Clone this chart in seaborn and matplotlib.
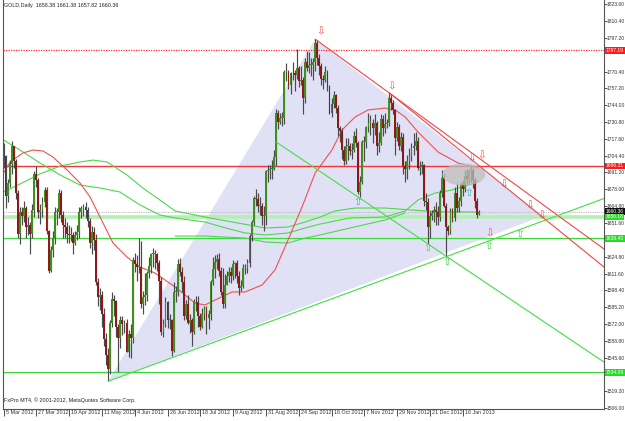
import numpy as np
import pandas as pd
import matplotlib
matplotlib.use("Agg")
import matplotlib.pyplot as plt
import seaborn as sns
from matplotlib.patches import Polygon, Ellipse
from matplotlib.transforms import blended_transform_factory, ScaledTranslation

# ---------------- data (GOLD daily, 5 Mar 2012 .. 28 Jan 2013) ----------------
opens = [
    1710,1704,1673,1683,1698,1712,1700,1675,1643,1660,1657,1663,1648,1650,1643,1662,1690,1685,1660,1662,
    1668,1677,1645,1614,1630,1640,1660,1660,1675,1658,1650,1648,1643,1642,1642,1636,1642,1644,1660,1663,
    1664,1662,1653,1636,1644,1638,1605,1593,1595,1580,1560,1548,1537,1573,1592,1590,1570,1561,1575,1572,1573,1550,1564,1561,
    1622,1619,1617,1617,1588,1593,1595,1612,1618,1627,1627,1627,1620,1606,1566,1572,1589,1575,1575,1551,
    1597,1597,1619,1613,1605,1578,1588,1573,1575,1566,1589,1589,1578,1570,1580,1584,1577,1580,1605,1615,1621,1623,
    1614,1597,1588,1603,1610,1613,1610,1619,1620,1610,1600,1602,1616,1616,1620,1641,1652,1671,1670,1665,1665,1657,1657,
    1692,1693,1694,1694,1703,1738,1731,1734,1734,1770,1770,1760,1769,1769,1768,1773,1763,1764,1750,1778,
    1773,1776,1776,1778,1793,1781,1775,1765,1764,1770,1758,1738,1745,1752,1742,1726,1724,1709,1700,1712,1712,1708,1709,
    1720,1714,1676,1684,1715,1715,1727,1730,1730,1726,1730,1712,1714,1733,1726,1729,1730,1750,1746,1740,1718,1727,
    1712,1719,1696,1694,1700,1704,1710,1712,1716,1695,1696,1697,1669,1668,1648,1657,1659,1662,1660,1656,
    1675,1687,1665,1648,1645,1661,1655,1675,1663,1669,1682,1678,1688,1686,1692,1693,1685,1669,1658.38]
highs = [
    1714,1705,1686,1701,1716,1712,1702,1677,1664,1664,1669,1665,1656,1652,1666,1692,1696,1687,1666,1672,
    1680,1680,1646,1633,1645,1664,1663,1678,1677,1661,1655,1652,1650,1648,1644,1645,1650,1664,1665,1666,
    1668,1664,1655,1649,1648,1643,1608,1600,1598,1585,1565,1553,1575,1597,1595,1591,1572,1578,1578,1575,1576,1567,1572,1625,
    1628,1626,1640,1637,1598,1612,1614,1625,1628,1632,1630,1628,1622,1609,1576,1593,1590,1580,1576,1605,
    1602,1623,1624,1617,1610,1591,1595,1580,1577,1592,1594,1594,1581,1585,1586,1586,1583,1607,1625,1626,1627,1628,
    1617,1616,1611,1614,1617,1617,1622,1621,1622,1614,1607,1619,1619,1623,1643,1654,1673,1678,1675,1672,1667,1665,1693,
    1697,1697,1701,1709,1741,1740,1738,1739,1772,1777,1772,1770,1778,1772,1788,1775,1775,1766,1781,1787,
    1786,1781,1781,1796,1795,1784,1777,1768,1775,1772,1760,1750,1755,1753,1744,1728,1726,1712,1718,1718,1714,1714,1724,
    1726,1716,1688,1717,1720,1728,1738,1736,1733,1737,1732,1723,1737,1736,1738,1733,1754,1753,1748,1741,1731,1729,
    1723,1722,1700,1705,1710,1714,1722,1723,1719,1700,1700,1698,1675,1671,1661,1662,1665,1668,1665,1677,
    1693,1690,1667,1650,1663,1663,1680,1683,1672,1684,1685,1693,1694,1694,1697,1695,1687,1671,1661.38]
lows = [
    1695,1663,1668,1680,1690,1695,1670,1640,1635,1650,1652,1640,1642,1627,1640,1656,1680,1655,1651,1656,
    1664,1643,1612,1613,1625,1635,1650,1655,1652,1640,1640,1636,1636,1637,1627,1634,1638,1640,1655,1657,
    1655,1648,1632,1627,1630,1603,1586,1583,1570,1555,1540,1527,1533,1570,1578,1562,1534,1553,1563,1565,1550,1546,1545,1557,
    1613,1606,1612,1585,1580,1587,1590,1608,1612,1617,1615,1614,1588,1563,1562,1570,1569,1568,1547,1550,
    1589,1594,1610,1597,1575,1576,1572,1565,1555,1564,1582,1570,1567,1569,1575,1564,1568,1575,1603,1608,1615,1610,
    1595,1585,1585,1603,1605,1604,1607,1608,1604,1595,1598,1600,1611,1612,1617,1637,1650,1665,1660,1658,1650,1645,1650,
    1684,1686,1686,1693,1696,1725,1729,1728,1729,1763,1757,1753,1764,1755,1765,1758,1760,1737,1746,1771,
    1769,1767,1764,1771,1776,1768,1760,1757,1762,1755,1737,1735,1742,1738,1720,1715,1702,1697,1698,1701,1705,1702,1707,
    1711,1674,1672,1682,1700,1710,1723,1721,1714,1721,1705,1707,1713,1720,1722,1726,1728,1740,1737,1705,1716,1709,
    1708,1690,1684,1686,1694,1700,1705,1709,1693,1689,1690,1665,1662,1635,1640,1654,1652,1650,1650,1653,
    1672,1664,1625,1642,1643,1652,1653,1660,1660,1665,1673,1676,1682,1683,1684,1679,1663,1655,1657.82]
closes = [
    1704,1673,1683,1698,1712,1700,1675,1643,1660,1657,1663,1648,1650,1643,1662,1690,1685,1660,1662,1668,
    1677,1645,1614,1630,1640,1660,1660,1675,1658,1650,1648,1643,1642,1642,1636,1642,1644,1660,1663,1664,
    1662,1653,1636,1644,1638,1605,1593,1595,1580,1560,1548,1537,1573,1592,1590,1570,1561,1575,1572,1573,1550,1564,1561,1622,
    1619,1617,1617,1588,1593,1595,1612,1618,1627,1627,1627,1620,1606,1566,1572,1589,1575,1575,1551,1597,
    1597,1619,1613,1605,1578,1588,1573,1575,1566,1589,1589,1578,1570,1580,1584,1577,1580,1605,1615,1621,1623,1614,
    1597,1588,1603,1610,1613,1610,1619,1620,1610,1600,1602,1616,1616,1620,1641,1652,1671,1670,1665,1665,1657,1657,1692,
    1693,1694,1694,1703,1738,1731,1734,1734,1770,1770,1760,1769,1769,1768,1773,1763,1764,1750,1778,1773,
    1776,1776,1778,1793,1781,1775,1765,1764,1770,1758,1738,1745,1752,1742,1726,1724,1709,1700,1712,1712,1708,1709,1720,
    1714,1676,1684,1715,1715,1727,1730,1730,1726,1730,1712,1714,1733,1726,1729,1730,1750,1746,1740,1718,1727,1712,
    1719,1696,1694,1700,1704,1710,1712,1716,1695,1696,1697,1669,1668,1648,1657,1659,1662,1660,1656,1675,
    1687,1665,1648,1645,1661,1655,1675,1663,1669,1682,1678,1688,1686,1692,1693,1685,1669,1658,1660.36]

date_labels = ["5 Mar 2012", "27 Mar 2012", "19 Apr 2012", "11 May 2012", "4 Jun 2012",
               "26 Jun 2012", "18 Jul 2012", "9 Aug 2012", "31 Aug 2012", "24 Sep 2012",
               "16 Oct 2012", "7 Nov 2012", "29 Nov 2012", "21 Dec 2012", "16 Jan 2013"]
date_label_bars = [0, 16, 32, 48, 64, 80, 96, 112, 128, 144, 160, 176, 192, 208, 224]

price_ticks = [1823.60, 1810.40, 1797.20, 1770.40, 1757.20, 1744.00, 1730.80,
               1717.60, 1704.40, 1691.20, 1678.00, 1664.80, 1651.60, 1624.80,
               1611.60, 1598.40, 1585.20, 1572.00, 1558.80, 1545.60, 1519.20, 1506.00]

# horizontal levels
red_levels = [1787.19, 1696.31]
green_levels = [1639.40, 1534.09]
pale_green_level = 1656.18
bid_level = 1660.36

# moving-average style curves (bar index, price)
red_ma_bar = [0, 3.2, 9.5, 14.4, 19.3, 24.1, 31, 37.3, 42.2, 47.1, 53.4, 60.2, 66.6, 73.9, 83.7, 93.4,
              98.3, 103.2, 111.5, 117.8, 126.1, 132.4, 138.8, 145.6, 152, 160.2, 165.1, 171.5, 177.8,
              186.1, 191, 195.9, 202.2, 212, 221.7, 231.5]
red_ma_val = [1690.7, 1699.4, 1706.5, 1708.8, 1708.0, 1703.3, 1693.1, 1682.9, 1671.9, 1656.1, 1635.7,
              1624.7, 1616.8, 1612.1, 1601.1, 1588.5, 1587.0, 1590.9, 1597.2, 1597.2, 1602.7, 1614.5,
              1638.1, 1664.0, 1690.7, 1708.8, 1724.5, 1734.8, 1740.3, 1741.8, 1740.3, 1734.8, 1722.9,
              1707.2, 1698.6, 1694.7]
green_ma1_bar = [0, 8, 17.8, 27.6, 37.3, 47.1, 56.8, 66.6, 76.3, 83.7, 98.3, 106.6, 117.8, 127.6, 138.8,
                 147.1, 154.4, 169, 186.1, 195.9, 202.2, 210.5, 218.8, 231.5]
green_ma1_val = [1716.7, 1708.8, 1698.6, 1689.2, 1681.3, 1679.0, 1675.8, 1665.6, 1657.7, 1655.4, 1652.2,
                 1648.3, 1643.6, 1642.0, 1643.6, 1647.5, 1650.6, 1655.4, 1656.1, 1660.9, 1669.5, 1675.0,
                 1677.4, 1683.7]
green_ma2_bar = [0, 8, 17.8, 27.6, 37.3, 43.7, 50.5, 60.2, 68, 76.3, 83.7, 98.3, 114.4, 127.6, 138.8,
                 147.1, 154.4, 161.7, 171.5, 186.1, 205.6, 216.8, 231.5]
green_ma2_val = [1675.8, 1682.1, 1690.0, 1696.2, 1699.4, 1700.9, 1699.4, 1689.2, 1678.9, 1669.5, 1660.9,
                 1656.1, 1651.4, 1647.5, 1648.3, 1652.2, 1656.1, 1660.9, 1663.2, 1663.2, 1660.9, 1660.1,
                 1660.1]
green_ma3_bar = [83.7, 98.3, 117.8, 127.6, 138.8, 147.1, 154.4, 169, 186.1, 195.9]
green_ma3_val = [1641.2, 1641.2, 1639.6, 1636.5, 1635.7, 1639.6, 1642.0, 1647.5, 1653.8, 1659.3]

# trend lines: (bar, price) anchors
red_line1_bar = [152, 292.9]; red_line1_val = [1796, 1631.0]
red_line2_bar = [188, 292.9]; red_line2_val = [1754, 1616.8]
green_up_bar = [51, 292.9];   green_up_val = [1527, 1670.7]
green_dn_bar = [133, 292.9];  green_dn_val = [1715.1, 1542.1]
triangle_bar = [51, 152, 263]
triangle_val = [1527, 1796, 1657]
ellipse_center = (224.5, 1689.5)
ellipse_size = (21, 17.3)

# fractal-style arrows
down_arrow_bar = [154.9, 189.5, 228.5, 233.4, 244.1, 256.8, 262.7, 237.3]
down_arrow_val = [1802.4, 1759.1, 1702.5, 1704.9, 1682.1, 1665.6, 1657.7, 1643.6]
up_arrow_bar = [207.1, 215.9, 236.8, 251.9]
up_arrow_val = [1631.8, 1620.8, 1633.4, 1642.8]
teal_arrow_bar = [227.1, 172.9]
teal_arrow_val = [1675.0, 1667.9]

# ---------------- plotting ----------------
sns.set_theme(style="white")
plt.rcParams['font.family'] = ['Liberation Sans', 'DejaVu Sans']
FS = 3.9      # dates / header text
FS_R = 3.65   # right-hand price scale

W, H = 625, 421
fig = plt.figure(figsize=(W / 100, H / 100), dpi=100)
fig.patch.set_facecolor('white')
ax = fig.add_axes([3 / W, 12 / H, 601 / W, 409 / H])
ax.set_facecolor('white')

df = pd.DataFrame({'o': opens, 'h': highs, 'l': lows, 'c': closes})
df['i'] = np.arange(len(df))

# triangle
tri = Polygon(list(zip(triangle_bar, triangle_val)), closed=True, facecolor='#E1E1F6',
              edgecolor='none', linewidth=0, zorder=0.5)
ax.add_patch(tri)

# horizontal levels
ax.axhline(red_levels[0], color='#FF3030', lw=0.9, ls=(0, (1, 1)), zorder=1)
ax.axhline(red_levels[1], color='#F03838', lw=1.0, zorder=1)
ax.axhline(pale_green_level, color='#B4F0B4', lw=2.6, zorder=1)
for g in green_levels:
    ax.axhline(g, color='#3CD83C', lw=0.9, zorder=1)
ax.axhline(bid_level, color='#BBBBBB', lw=0.8, ls=(0, (1, 1)), zorder=1)

# MA curves
for bx, vy, col in [(green_ma1_bar, green_ma1_val, '#4CD84C'),
                    (green_ma2_bar, green_ma2_val, '#4CD84C'),
                    (green_ma3_bar, green_ma3_val, '#4CD84C'),
                    (red_ma_bar, red_ma_val, '#F05050')]:
    sns.lineplot(x=bx, y=vy, ax=ax, color=col, lw=0.8, sort=False, estimator=None, zorder=1.5)

# candles
ax.vlines(df['i'], df['l'], df['h'], color='#4A4A4A', lw=0.85, zorder=2)
bull = df['c'] >= df['o']
body_bottom = np.minimum(df['o'], df['c'])
body_h = np.maximum(np.abs(df['c'] - df['o']), 0.6)
ax.bar(df['i'], body_h, bottom=body_bottom, width=0.9,
       color=np.where(bull, '#3F8F1F', '#8C1A1A'), linewidth=0, zorder=2.2)

# ellipse
ax.add_patch(Ellipse(ellipse_center, ellipse_size[0], ellipse_size[1], facecolor='#BDBDBD',
                     edgecolor='none', alpha=0.75, zorder=2.4))

# trend lines
for bx, vy, col in [(red_line1_bar, red_line1_val, '#F04848'),
                    (red_line2_bar, red_line2_val, '#F04848'),
                    (green_up_bar, green_up_val, '#44DD44'),
                    (green_dn_bar, green_dn_val, '#44DD44')]:
    sns.lineplot(x=bx, y=vy, ax=ax, color=col, lw=0.8, zorder=2.5)

# arrows
for bars, vals, col, ch in [(down_arrow_bar, down_arrow_val, '#F05050', '\u21e9'),
                            (up_arrow_bar, up_arrow_val, '#40D040', '\u21e7'),
                            (teal_arrow_bar, teal_arrow_val, '#20B8A0', '\u21e7')]:
    for b, v in zip(bars, vals):
        ax.text(b, v, ch, color=col, fontsize=7.5, ha='center', va='center',
                family='DejaVu Sans', zorder=3)

ax.set_xlim(-0.25, 292.9)
ax.set_ylim(1505.21, 1826.74)
ax.set_xlabel('')
ax.set_ylabel('')

# spines
for s in ['left', 'right', 'bottom']:
    ax.spines[s].set_color('#555555')
    ax.spines[s].set_linewidth(0.8)
ax.spines['top'].set_visible(False)

# y axis on the right
ax.yaxis.tick_right()
ax.set_yticks(price_ticks)
ax.set_yticklabels([f"{v:.2f}" for v in price_ticks])
ax.tick_params(axis='y', which='both', right=True, left=False, length=1.8, width=0.6,
               labelsize=FS_R, pad=0.4, colors='#333333')

# x axis
ax.set_xticks(date_label_bars)
ax.set_xticklabels(date_labels, ha='left')
ax.tick_params(axis='x', bottom=True, length=5, width=0.6, labelsize=FS, pad=-4.0,
               colors='#333333')
for lab in ax.get_xticklabels():
    lab.set_transform(lab.get_transform() + ScaledTranslation(1.5 / 72, 0, fig.dpi_scale_trans))
ax.grid(False)

# price tags on the right axis
trans = blended_transform_factory(ax.transAxes, ax.transData)
tags = [(1787.19, '#FF1A1A'), (1696.31, '#FF1A1A'), (1660.36, '#101010'),
        (1656.18, '#22DD22'), (1639.40, '#22DD22'), (1534.09, '#22DD22')]
for v, col in tags:
    ax.text(1.0 + 1.8 / 601, v, f"{v:.2f}", transform=trans, fontsize=FS_R, color='white',
            ha='left', va='center', clip_on=False, zorder=5,
            bbox=dict(boxstyle='square,pad=0.15', facecolor=col, edgecolor='none'))

# header / footer text
fig.text(4 / W, 1 - 6 / H, "GOLD,Daily  1658.38 1661.38 1657.82 1660.36", fontsize=FS,
         color='#222222', ha='left', va='center')
fig.text(4 / W, 1 - 400 / H, "FxPro MT4, \u00a9 2001-2012, MetaQuotes Software Corp.", fontsize=FS,
         color='#222222', ha='left', va='center')

fig.savefig('out.png', dpi=100, facecolor='white')
